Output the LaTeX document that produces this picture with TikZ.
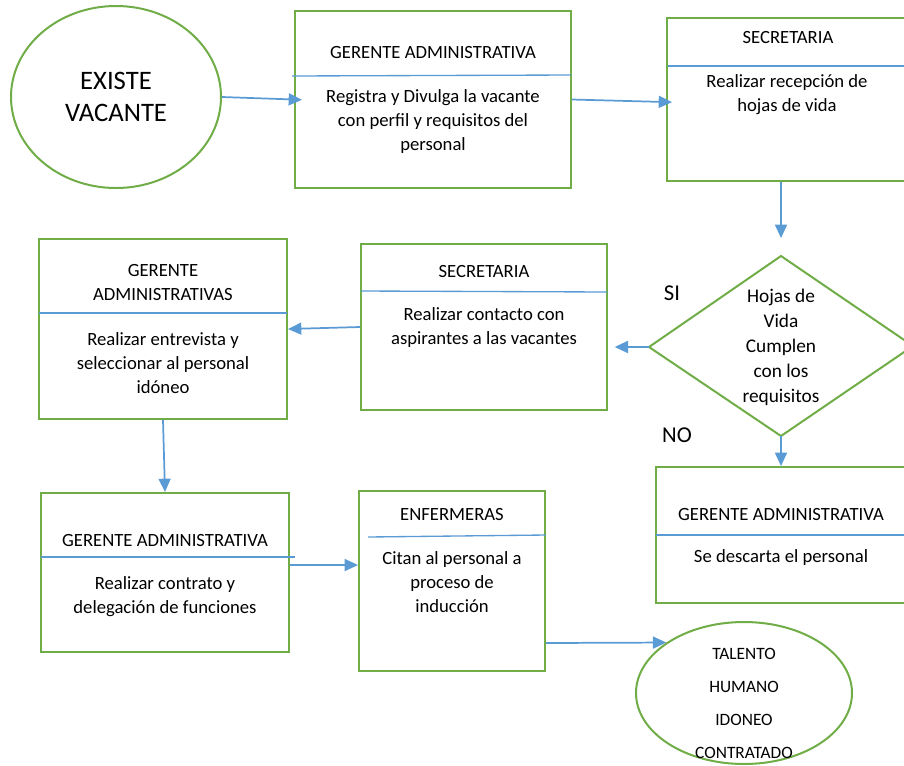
\documentclass[tikz,border=0pt]{standalone}
\usepackage{fontspec}
\setmainfont{Carlito}
\usetikzlibrary{arrows.meta,shapes.geometric}
\definecolor{boxgreen}{RGB}{112,173,71}
\definecolor{lineblue}{RGB}{91,155,213}

\begin{document}
\begin{tikzpicture}[x=0.75pt,y=-0.75pt,
  proc/.style={draw=boxgreen,line width=1.5pt,rectangle,inner sep=0pt},
  oval/.style={draw=boxgreen,line width=1.5pt,ellipse,inner sep=0pt},
  divline/.style={draw=lineblue,line width=1pt},
  flow/.style={draw=lineblue,line width=1.3pt,-{Triangle[length=10pt,width=9pt]}},
  txt/.style={align=center,inner sep=0pt,font=\fontsize{14}{18}\selectfont}]
\useasboundingbox (0,0) rectangle (904,765);

% inicio
\node[oval,minimum width=157.5pt,minimum height=136.5pt,align=center,
  font=\fontsize{20}{24}\selectfont] (existe) at (116,97) {EXISTE\\VACANTE};

% fila de arriba
\node[proc,minimum width=207pt,minimum height=132.75pt] (registra) at (433,99.5) {};
\node[txt] (registraT) at (433,53) {GERENTE ADMINISTRATIVA};
\draw[divline] (292,76) coordinate (r1) -- (571,75) coordinate (r2);
\node[txt] (registraB) at (433,121.5) {Registra y Divulga la vacante\\con perfil y requisitos del\\personal};

\node[proc,minimum width=182.25pt,minimum height=122.25pt] (recepcion) at (788.5,99.5) {};
\node[txt] (recepcionT) at (788,38) {SECRETARIA};
\draw[divline] (668,66) coordinate (s1) -- (910,66) coordinate (s2);
\node[txt] (recepcionB) at (787,95) {Realizar recepción de\\hojas de vida};

% decision
\coordinate (dtop) at (781,256);
\coordinate (dleft) at (649,347);
\coordinate (dbot) at (781,436);
\coordinate (dright) at (913,346);
\draw[boxgreen,line width=1.5pt] (dtop) -- (dright) -- (dbot) -- (dleft) -- cycle;
\node[txt,font=\fontsize{14.5}{18.75}\selectfont] (hojas) at (781,347) {Hojas de\\Vida\\Cumplen\\con los\\requisitos};
\node[inner sep=0pt,font=\fontsize{17}{20}\selectfont] (si) at (672,293) {SI};
\node[inner sep=0pt,font=\fontsize{17}{20}\selectfont] (no) at (677,435) {NO};

% fila del medio
\node[proc,minimum width=184.5pt,minimum height=124.5pt] (contacto) at (484,327) {};
\node[txt] (contactoT) at (484,271) {SECRETARIA};
\draw[divline] (361,291) coordinate (c1) -- (607,292) coordinate (c2);
\node[txt] (contactoB) at (484,327.5) {Realizar contacto con\\aspirantes a las vacantes};

\node[proc,minimum width=186pt,minimum height=135pt] (entrevista) at (163,329) {};
\node[txt] (entrevistaT) at (163,282.5) {GERENTE\\ADMINISTRATIVAS};
\draw[divline] (39,313) coordinate (e1) -- (287,313) coordinate (e2);
\node[txt] (entrevistaB) at (163,363) {Realizar entrevista y\\seleccionar al personal\\idóneo};

\node[proc,minimum width=190.5pt,minimum height=102pt] (descarta) at (783,535) {};
\node[txt] (descartaT) at (781,514) {GERENTE ADMINISTRATIVA};
\draw[divline] (656,535) coordinate (d1) -- (910,535) coordinate (d2);
\node[txt] (descartaB) at (781,558) {Se descarta el personal};

% fila de abajo
\node[proc,minimum width=186pt,minimum height=119.25pt] (contrato) at (165,572.5) {};
\node[txt] (contratoT) at (165,540) {GERENTE ADMINISTRATIVA};
\draw[divline] (41,557) coordinate (k1) -- (295,557) coordinate (k2);
\node[txt] (contratoB) at (165,597) {Realizar contrato y\\delegación de funciones};

\node[proc,minimum width=139.5pt,minimum height=135pt] (induccion) at (452,581) {};
\node[txt] (induccionT) at (452,514) {ENFERMERAS};
\draw[divline] (368,537) coordinate (i1) -- (546,535) coordinate (i2);
\node[txt] (induccionB) at (452,582) {Citan al personal a\\proceso de\\inducción};

% fin
\node[oval,minimum width=162pt,minimum height=106.5pt] (talento) at (744,693) {};
\node[txt,font=\fontsize{13}{24.75}\selectfont] (talentoT) at (744,703) {TALENTO\\HUMANO\\IDONEO\\CONTRATADO};

% flechas
\draw[flow,shorten >=-6pt] (existe.east) -- (registra.west);
\draw[flow,shorten >=-4.5pt] (registra.east) -- ([yshift=-1.9pt]recepcion.west);
\draw[flow,shorten >=13.5pt] (recepcion.south -| dtop) -- (dtop);
\draw[flow,shorten >=5pt] (dleft) -- (contacto.east |- dleft);
\draw[flow] (dbot) -- (descarta.north -| dbot);
\draw[flow] (contacto.west) -- (entrevista.east);
\draw[flow] (entrevista.south) -- (contrato.north);
\draw[flow] ([yshift=5.6pt]contrato.east) -- ([yshift=5.6pt]contrato.east -| induccion.west);
\draw[flow] ([yshift=-46.5pt]induccion.east) -- (talento.147);
\end{tikzpicture}
\end{document}
